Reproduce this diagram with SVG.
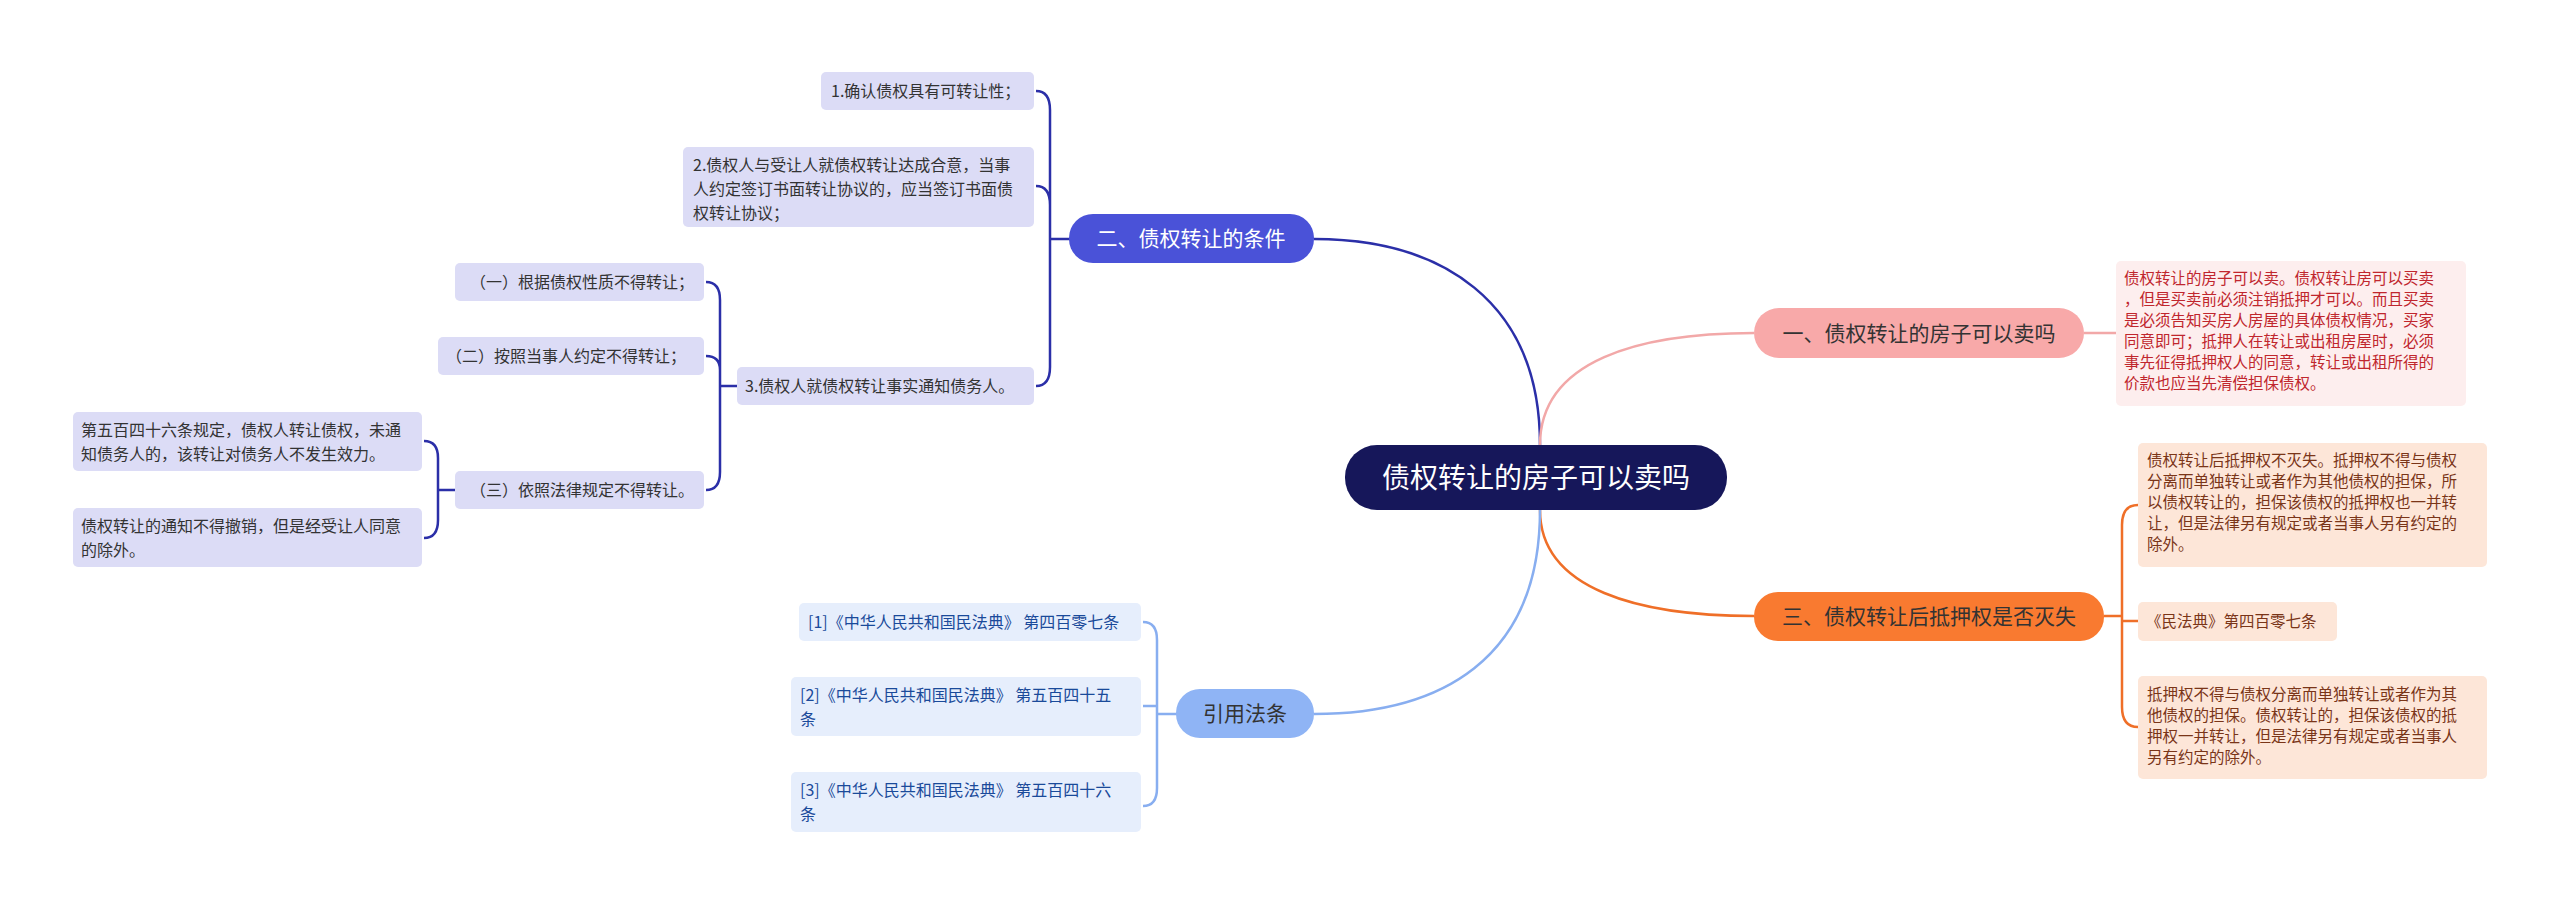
<svg xmlns="http://www.w3.org/2000/svg" width="2560" height="904" viewBox="0 0 2560 904">
<style>
text{font-family:"Noto Sans CJK SC","Noto Sans",sans-serif;}
.c{fill:none;stroke-width:2.5}
.p{fill:#dcdcf6}.pt{font-size:16px;fill:#333}
.r{fill:#fdeeee}.rt{font-size:15.5px;fill:#c0262d}
.o{fill:#fde6d8}.ot{font-size:15.5px;fill:#7a3518}
.b{fill:#e6eefc}.bt{font-size:16px;fill:#1a4a9a}
</style>
<rect width="2560" height="904" fill="#fff"/>
<g id="connectors">
<path class="c" stroke="#2b2fa8" d="M1540,445 C1540,300 1440,239 1314,239"/>
<path class="c" stroke="#f2a8a8" d="M1540,445 C1540,360 1640,333 1754,333 M2084,333 L2116,333"/>
<path class="c" stroke="#ef6f28" d="M1540,510 C1540,590 1640,616 1754,616 M2104,616 L2122,616"/>
<path class="c" stroke="#88aef0" d="M1540,510 C1540,660 1440,714 1314,714"/>
<path class="c" stroke="#2b2fa8" d="M1073,239 L1050,239 M1036,91 Q1050,91 1050,110 L1050,367 Q1050,386 1036,386 M1036,186 Q1050,186 1050,205"/>
<path class="c" stroke="#2b2fa8" d="M737,386 L720,386 M706,282 Q720,282 720,300 L720,472 Q720,490 706,490 M706,356 Q720,356 720,370"/>
<path class="c" stroke="#2b2fa8" d="M455,490 L438,490 M424,441 Q438,441 438,458 L438,520 Q438,538 424,538"/>
<path class="c" stroke="#ef6f28" d="M2122,616 M2138,505 Q2122,505 2122,525 L2122,707 Q2122,727 2138,727 M2122,621 L2138,621"/>
<path class="c" stroke="#88aef0" d="M1180,714 L1157,714 M1143,622 Q1157,622 1157,640 L1157,788 Q1157,806 1143,806 M1143,706 L1157,706"/>
</g>
<g id="root"><rect x="1345" y="445" width="382" height="65" rx="32" fill="#16175a"/><text x="1536" y="488" font-size="28" fill="#fff" text-anchor="middle">债权转让的房子可以卖吗</text></g>
<g id="b2"><rect x="1069" y="214" width="245" height="49" rx="24" fill="#4a52d8"/><text x="1191" y="246" font-size="21" fill="#fff" text-anchor="middle">二、债权转让的条件</text></g>
<g id="n1"><rect class="p" x="821" y="72" width="213" height="38" rx="5"/><text class="pt" x="831" y="97">1.确认债权具有可转让性；</text></g>
<g id="n2"><rect class="p" x="683" y="147" width="351" height="80" rx="5"/><text class="pt" x="693" y="171">2.债权人与受让人就债权转让达成合意，当事</text><text class="pt" x="693" y="195">人约定签订书面转让协议的，应当签订书面债</text><text class="pt" x="693" y="219">权转让协议；</text></g>
<g id="n3"><rect class="p" x="737" y="367" width="297" height="38" rx="5"/><text class="pt" x="745" y="392">3.债权人就债权转让事实通知债务人。</text></g>
<g id="n31"><rect class="p" x="455" y="263" width="249" height="38" rx="5"/><text class="pt" x="470" y="288">（一）根据债权性质不得转让；</text></g>
<g id="n32"><rect class="p" x="438" y="337" width="266" height="38" rx="5"/><text class="pt" x="446" y="362">（二）按照当事人约定不得转让；</text></g>
<g id="n33"><rect class="p" x="455" y="471" width="249" height="38" rx="5"/><text class="pt" x="470" y="496">（三）依照法律规定不得转让。</text></g>
<g id="n331"><rect class="p" x="73" y="412" width="349" height="59" rx="5"/><text class="pt" x="81" y="436">第五百四十六条规定，债权人转让债权，未通</text><text class="pt" x="81" y="460">知债务人的，该转让对债务人不发生效力。</text></g>
<g id="n332"><rect class="p" x="73" y="508" width="349" height="59" rx="5"/><text class="pt" x="81" y="532">债权转让的通知不得撤销，但是经受让人同意</text><text class="pt" x="81" y="556">的除外。</text></g>
<g id="b1"><rect x="1754" y="308" width="330" height="50" rx="25" fill="#f8a9a9"/><text x="1919" y="341" font-size="21" fill="#333" text-anchor="middle">一、债权转让的房子可以卖吗</text></g>
<g id="b1c"><rect class="r" x="2116" y="261" width="350" height="145" rx="5"/>
<text class="rt" x="2124" y="284">债权转让的房子可以卖。债权转让房可以买卖</text><text class="rt" x="2124" y="305">，但是买卖前必须注销抵押才可以。而且买卖</text><text class="rt" x="2124" y="326">是必须告知买房人房屋的具体债权情况，买家</text><text class="rt" x="2124" y="347">同意即可；抵押人在转让或出租房屋时，必须</text><text class="rt" x="2124" y="368">事先征得抵押权人的同意，转让或出租所得的</text><text class="rt" x="2124" y="389">价款也应当先清偿担保债权。</text></g>
<g id="b3"><rect x="1754" y="592" width="350" height="49" rx="24" fill="#f97a30"/><text x="1929" y="624" font-size="21" fill="#333" text-anchor="middle">三、债权转让后抵押权是否灭失</text></g>
<g id="b3c1"><rect class="o" x="2138" y="443" width="349" height="124" rx="5"/>
<text class="ot" x="2147" y="466">债权转让后抵押权不灭失。抵押权不得与债权</text><text class="ot" x="2147" y="487">分离而单独转让或者作为其他债权的担保，所</text><text class="ot" x="2147" y="508">以债权转让的，担保该债权的抵押权也一并转</text><text class="ot" x="2147" y="529">让，但是法律另有规定或者当事人另有约定的</text><text class="ot" x="2147" y="550">除外。</text></g>
<g id="b3c2"><rect class="o" x="2138" y="602" width="199" height="39" rx="5"/><text class="ot" x="2146" y="627">《民法典》第四百零七条</text></g>
<g id="b3c3"><rect class="o" x="2138" y="676" width="349" height="103" rx="5"/>
<text class="ot" x="2147" y="700">抵押权不得与债权分离而单独转让或者作为其</text><text class="ot" x="2147" y="721">他债权的担保。债权转让的，担保该债权的抵</text><text class="ot" x="2147" y="742">押权一并转让，但是法律另有规定或者当事人</text><text class="ot" x="2147" y="763">另有约定的除外。</text></g>
<g id="b4"><rect x="1176" y="689" width="138" height="49" rx="24" fill="#8fb4f5"/><text x="1245" y="721" font-size="21" fill="#333" text-anchor="middle">引用法条</text></g>
<g id="r1"><rect class="b" x="799" y="603" width="342" height="38" rx="5"/><text class="bt" x="808" y="628">[1]《中华人民共和国民法典》 第四百零七条</text></g>
<g id="r2"><rect class="b" x="791" y="677" width="350" height="59" rx="5"/><text class="bt" x="800" y="701">[2]《中华人民共和国民法典》 第五百四十五</text><text class="bt" x="800" y="725">条</text></g>
<g id="r3"><rect class="b" x="791" y="772" width="350" height="60" rx="5"/><text class="bt" x="800" y="796">[3]《中华人民共和国民法典》 第五百四十六</text><text class="bt" x="800" y="820">条</text></g>
</svg>
